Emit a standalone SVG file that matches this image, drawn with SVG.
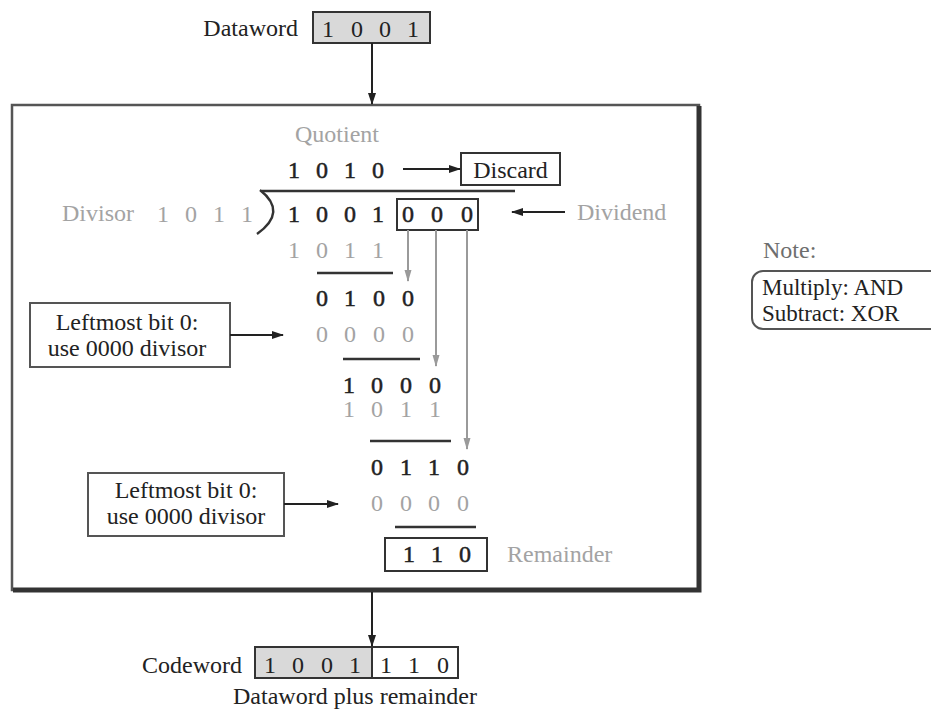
<svg xmlns="http://www.w3.org/2000/svg" width="931" height="711" viewBox="0 0 931 711">
  <style>
    text { font-family: "Liberation Serif", "Times New Roman", serif; font-size: 24px; fill: #222; }
    .gray { fill: #a3a3a3; }
    .note { fill: #6e6e6e; }
    .legend { font-size: 23px; }
    .bd { stroke: #222; stroke-width: 0.5; }
    .mid { text-anchor: middle; }
    .end { text-anchor: end; }
    .box { fill: #fff; stroke: #333; stroke-width: 2; }
    .lbox { fill: #fff; stroke: #555; stroke-width: 2; }
    .rule { stroke: #333; stroke-width: 2.5; fill: none; }
    .wire { stroke: #222; stroke-width: 2; fill: none; }
    .gwire { stroke: #9a9a9a; stroke-width: 2; fill: none; }
  </style>
  <defs>
    <marker id="ah" markerUnits="userSpaceOnUse" markerWidth="12" markerHeight="10" refX="11" refY="5" orient="auto">
      <path d="M0,1 L12,5 L0,9 Z" fill="#222"/>
    </marker>
    <marker id="ahg" markerUnits="userSpaceOnUse" markerWidth="12" markerHeight="10" refX="11" refY="5" orient="auto">
      <path d="M0,1.5 L12,5 L0,8.5 Z" fill="#9a9a9a"/>
    </marker>
  </defs>
  <rect width="931" height="711" fill="#fff"/>

  <!-- input dataword -->
  <g id="dataword">
    <text class="end" x="298" y="36">Dataword</text>
    <rect x="313" y="12" width="117" height="31" fill="#d9d9d9" stroke="#333" stroke-width="2"/>
    <text class="mid" x="328 357 385 413" y="37">1001</text>
  </g>

  <!-- generator frame -->
  <g id="generator">
    <rect x="12" y="105" width="687" height="485" fill="#fff" stroke="#555" stroke-width="2.5"/>
    <path d="M699,106 V590 H13" fill="none" stroke="#333" stroke-width="5"/>
  </g>

  <!-- long division -->
  <g id="quotient">
    <text class="gray" x="295" y="142">Quotient</text>
    <text class="mid bd" x="294 322 350 378" y="178">1010</text>
  </g>
  <g id="discard">
    <rect class="box" x="461" y="153" width="99" height="32"/>
    <text class="mid" x="510.5" y="178">Discard</text>
  </g>
  <g id="divisor">
    <text class="gray" x="62" y="221">Divisor</text>
    <text class="gray mid" x="163 191 219 247" y="222">1011</text>
    <path class="rule" d="M262,191 H515"/>
    <path d="M260,190 Q288,212 257,234" fill="none" stroke="#333" stroke-width="2.5"/>
  </g>
  <g id="dividend">
    <text class="mid bd" x="294 322 350 378 408 437 467" y="222">1001000</text>
    <rect x="397" y="199" width="81" height="31" fill="none" stroke="#333" stroke-width="2"/>
    <text class="gray" x="577" y="220">Dividend</text>
  </g>

  <g id="step1">
    <text class="gray mid" x="294 322 350 378" y="258">1011</text>
    <path class="rule" d="M317,273 H393"/>
    <text class="mid bd" x="322 350 379 408" y="306">0100</text>
  </g>
  <g id="step2">
    <text class="gray mid" x="322 350 379 408" y="342">0000</text>
    <path class="rule" d="M343,359 H420"/>
    <text class="mid bd" x="349 377 406 435" y="393">1000</text>
  </g>
  <g id="step3">
    <text class="gray mid" x="349 377 406 435" y="417">1011</text>
    <path class="rule" d="M370,441 H451"/>
    <text class="mid bd" x="377 406 434 463" y="475">0110</text>
  </g>
  <g id="step4">
    <text class="gray mid" x="377 406 434 463" y="511">0000</text>
    <path class="rule" d="M395,527 H476"/>
  </g>
  <g id="remainder">
    <rect class="box" x="385" y="538" width="102" height="33"/>
    <text class="mid bd" x="409 437 465" y="562">110</text>
    <text class="gray" x="507" y="562">Remainder</text>
  </g>

  <!-- side notes inside the frame -->
  <g id="note-zero-1">
    <rect class="lbox" x="30" y="303" width="200" height="64"/>
    <text class="mid" x="127" y="330">Leftmost bit 0:</text>
    <text class="mid" x="127" y="356">use 0000 divisor</text>
  </g>
  <g id="note-zero-2">
    <rect class="lbox" x="88" y="473" width="196" height="63"/>
    <text class="mid" x="186" y="498">Leftmost bit 0:</text>
    <text class="mid" x="186" y="524">use 0000 divisor</text>
  </g>

  <!-- output codeword -->
  <g id="codeword">
    <text class="end" x="242" y="673">Codeword</text>
    <rect x="255" y="647" width="117" height="31" fill="#d9d9d9"/>
    <rect x="255" y="647" width="203" height="31" fill="none" stroke="#333" stroke-width="2"/>
    <path d="M372,647 V678" stroke="#333" stroke-width="2"/>
    <text class="mid" x="270 298 327 355" y="673">1001</text>
    <text class="mid" x="386 414 443" y="673">110</text>
    <text x="233" y="704">Dataword plus remainder</text>
  </g>

  <!-- operation legend -->
  <g id="legend">
    <text class="note" x="763" y="258">Note:</text>
    <rect x="752" y="271" width="200" height="58" rx="11" ry="11" fill="none" stroke="#555" stroke-width="2"/>
    <text class="legend" x="762" y="295">Multiply: AND</text>
    <text class="legend" x="762" y="321">Subtract: XOR</text>
  </g>

  <!-- connectors -->
  <g id="connectors">
    <path class="wire" d="M372,43 V104" marker-end="url(#ah)"/>
    <path class="wire" d="M403,169 H460" marker-end="url(#ah)"/>
    <path class="wire" d="M565,212 H512" marker-end="url(#ah)"/>
    <path class="wire" d="M230,335 H283" marker-end="url(#ah)"/>
    <path class="wire" d="M284,504 H338" marker-end="url(#ah)"/>
    <path class="wire" d="M372,592 V646" marker-end="url(#ah)"/>
    <path class="gwire" d="M408,230 V281" marker-end="url(#ahg)"/>
    <path class="gwire" d="M436,230 V366" marker-end="url(#ahg)"/>
    <path class="gwire" d="M467,230 V449" marker-end="url(#ahg)"/>
  </g>
</svg>
